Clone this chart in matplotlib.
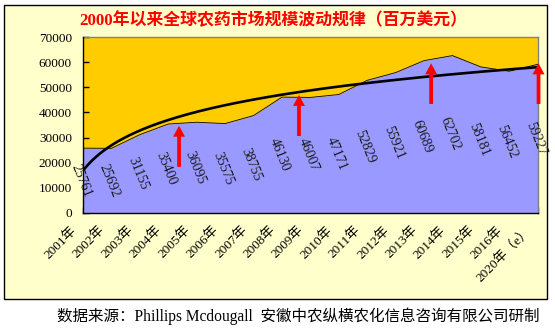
import numpy as np
import matplotlib
matplotlib.use('Agg')
import matplotlib.pyplot as plt
import matplotlib.transforms as mtransforms
from matplotlib.patches import Rectangle, FancyArrowPatch

# ---- data ----
years = ['2001年', '2002年', '2003年', '2004年', '2005年', '2006年', '2007年',
         '2008年', '2009年', '2010年', '2011年', '2012年', '2013年', '2014年',
         '2015年', '2016年', '2020年（e）']
market = [25761, 25692, 31155, 35400, 36095, 35575, 38755, 46130, 46007,
          47171, 52829, 55921, 60689, 62702, 58181, 56452, 59227]
yticks = [0, 10000, 20000, 30000, 40000, 50000, 60000, 70000]

# red arrows (category position, tail value, tip value)
arrow_x = [3.38, 7.6, 12.25, 16.03]
arrow_tail = [18300, 30600, 43400, 43400]
arrow_tip = [34700, 47000, 59600, 59600]

title = '2000年以来全球农药市场规模波动规律（百万美元）'
source = '数据来源：Phillips Mcdougall  安徽中农纵横农化信息咨询有限公司研制'

SERIF = ['Liberation Serif', 'Noto Sans CJK SC']

W, H = 555, 336
fig = plt.figure(figsize=(W / 100, H / 100), dpi=100, facecolor='white')

# light-yellow chart box
fig.patches.append(Rectangle((4 / W, 1 - 299 / H), 543 / W, 294 / H,
                             transform=fig.transFigure, facecolor='#FFFFCC',
                             edgecolor='black', linewidth=1.0, zorder=-5))

ax = fig.add_axes([83 / W, 1 - 212.7 / H, (537.7 - 83) / W, (212.7 - 37.3) / H])
ax.set_zorder(1)
ax.set_facecolor('#FFCC00')

x = np.arange(len(market))
ax.fill_between(x, market, 0, color='#9999FF', linewidth=0, zorder=2)
ax.plot(x, market, color='black', lw=0.6, zorder=3)

# logarithmic trend line fitted to the series (as in the original spreadsheet)
a, b = np.polyfit(np.log(x + 1), market, 1)
xs = np.linspace(0, len(market) - 1, 300)
ax.plot(xs, a * np.log(xs + 1) + b, color='black', lw=1.9, zorder=4,
        solid_capstyle='butt')

# data labels in the middle of the area
for i, v in enumerate(market):
    ax.annotate(f'{v}', (i, v / 2), xytext=(-1.5, 0), textcoords='offset points',
                rotation=-68, ha='center', va='center', fontsize=10,
                family=SERIF, color='#1a1a1a', annotation_clip=False,
                rotation_mode='anchor', zorder=6)

# arrows
for ax_x, t0, t1 in zip(arrow_x, arrow_tail, arrow_tip):
    arr = FancyArrowPatch((ax_x, t0), (ax_x, t1),
                          arrowstyle='simple,head_width=8.6,head_length=7.9,tail_width=2.7',
                          mutation_scale=1, color='red', lw=0, shrinkA=0,
                          shrinkB=0, clip_on=False, zorder=7)
    ax.add_patch(arr)

ax.set_xlim(0, len(market) - 1)
ax.set_ylim(0, 70000)
ax.set_yticks(yticks)
ax.set_yticklabels([str(t) for t in yticks], fontsize=9.5, family=SERIF)
ax.set_xticks(x)
ax.set_xticklabels(years, rotation=45, ha='right', fontsize=9.5, family=SERIF)
ax.tick_params(axis='both', direction='in', length=4, width=1, color='black')
ax.tick_params(axis='y', pad=8)
ax.tick_params(axis='x', pad=3)

shift = mtransforms.ScaledTranslation(-4 / 100, -7 / 100, fig.dpi_scale_trans)
for lab in ax.get_xticklabels():
    lab.set_transform(lab.get_transform() + shift)

for s in ['top', 'right']:
    ax.spines[s].set_color('#808080')
    ax.spines[s].set_linewidth(1)
for s in ['left', 'bottom']:
    ax.spines[s].set_color('black')
    ax.spines[s].set_linewidth(1)
    ax.spines[s].set_zorder(8)

fig.text(273 / W, 1 - 21 / H, title, ha='center', va='center', color='red',
         fontsize=12.2, fontweight='bold', family=SERIF)
fig.text(57 / W, 1 - 316 / H, source, ha='left', va='center', fontsize=11.2,
         family=SERIF, color='black')

fig.savefig('out.png', dpi=100, facecolor='white')
